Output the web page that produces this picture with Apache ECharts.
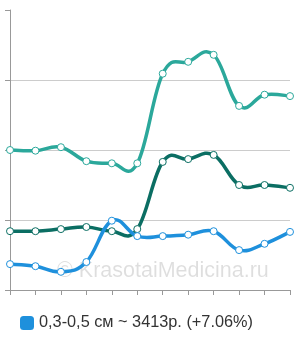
<!DOCTYPE html>
<html>
<head>
<meta charset="utf-8">
<script src="https://cdn.jsdelivr.net/npm/echarts@6/dist/echarts.min.js"></script>
<style>
html, body { margin: 0; padding: 0; background: #fff; }
#chart { width: 300px; height: 340px; }
</style>
</head>
<body>
<div id="chart"></div>
<script>
var categories = ['1', '2', '3', '4', '5', '6', '7', '8', '9', '10', '11', '12'];
var topValues = [2.0, 1.99, 2.04, 1.84, 1.81, 1.81, 3.09, 3.26, 3.36, 2.63, 2.79, 2.77];
var midValues = [0.84, 0.84, 0.87, 0.9, 0.84, 0.87, 1.83, 1.87, 1.93, 1.5, 1.5, 1.46];
var lowValues = [0.37, 0.34, 0.26, 0.4, 0.99, 0.77, 0.77, 0.79, 0.84, 0.57, 0.66, 0.83];
var legendName = '0,3-0,5 см ~ 3413р. (+7.06%)';

var chart = echarts.init(document.getElementById('chart'));

// spline through the points, positions come from api.coord
function splineSeries(color, values) {
    return {
        type: 'custom',
        z: 2,
        silent: true,
        data: [[0, values[0]]],
        renderItem: function (params, api) {
            var pts = values.map(function (v, i) { return api.coord([i, v]); });
            var k = 0.2;
            var d = 'M' + pts[0][0] + ' ' + pts[0][1];
            for (var i = 1; i < pts.length; i++) {
                var p0 = pts[Math.max(i - 2, 0)], p1 = pts[i - 1], p2 = pts[i], p3 = pts[Math.min(i + 1, pts.length - 1)];
                var c1x = p1[0] + (p2[0] - p0[0]) * k, c1y = p1[1] + (p2[1] - p0[1]) * k;
                var c2x = p2[0] - (p3[0] - p1[0]) * k, c2y = p2[1] - (p3[1] - p1[1]) * k;
                d += ' C' + c1x + ' ' + c1y + ' ' + c2x + ' ' + c2y + ' ' + p2[0] + ' ' + p2[1];
            }
            return {
                type: 'path',
                shape: { pathData: d },
                style: { stroke: color, lineWidth: 3.5, fill: null, lineJoin: 'round', lineCap: 'round' }
            };
        }
    };
}

function pointSeries(name, color, data) {
    return {
        name: name,
        type: 'line',
        z: 3,
        data: data,
        symbol: 'circle',
        symbolSize: 7,
        lineStyle: { width: 0, opacity: 0 },
        itemStyle: { color: '#fff', borderColor: color, borderWidth: 1 },
        emphasis: { disabled: true }
    };
}

var option = {
    animation: false,
    grid: { left: 10, right: 10, top: 10, bottom: 50, containLabel: false },
    legend: {
        data: [{ name: legendName, itemStyle: { color: '#1E90DC', borderWidth: 0 } }],
        left: 15,
        top: 310,
        itemWidth: 14,
        itemHeight: 14,
        icon: 'roundRect',
        itemGap: 10,
        textStyle: { fontSize: 16.3, color: '#333', fontFamily: 'Liberation Sans, Arial, sans-serif' }
    },
    xAxis: {
        type: 'category',
        boundaryGap: false,
        data: categories,
        axisLine: { lineStyle: { color: '#999' } },
        axisTick: { show: true, length: 5, lineStyle: { color: '#999' } },
        axisLabel: { show: false },
        splitLine: { show: false }
    },
    yAxis: {
        type: 'value',
        min: 0,
        max: 4,
        interval: 1,
        axisLine: { show: true, lineStyle: { color: '#999' } },
        axisTick: { show: true, length: 5, lineStyle: { color: '#999' } },
        axisLabel: { show: false },
        splitLine: { lineStyle: { color: ['#ccc', '#ccc', '#ccc', '#ccc', 'rgba(0,0,0,0)'] } }
    },
    graphic: [{
        type: 'text',
        left: 57,
        top: 260,
        z: 0,
        style: {
            text: '© KrasotaiMedicina.ru',
            fontSize: 21.5,
            fill: 'rgba(0,0,0,0.13)',
            fontFamily: 'Liberation Sans, Arial, sans-serif'
        }
    }],
    series: [
        splineSeries('#2BA89B', topValues),
        splineSeries('#0B6E63', midValues),
        splineSeries('#1E90DC', lowValues),
        pointSeries('top', '#2BA89B', topValues),
        pointSeries('mid', '#0B6E63', midValues),
        pointSeries(legendName, '#1E90DC', lowValues)
    ]
};

chart.setOption(option);
</script>
</body>
</html>
